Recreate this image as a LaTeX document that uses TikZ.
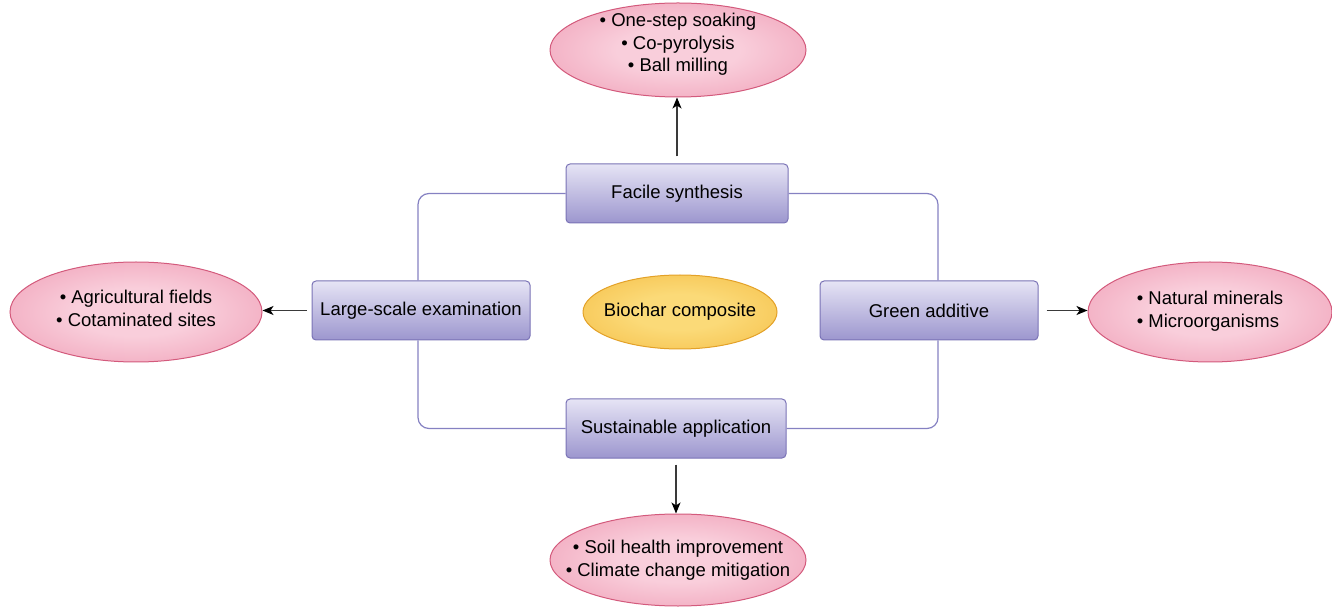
\documentclass[tikz,border=0pt]{standalone}
\usepackage{fontspec}
\setmainfont{Liberation Sans}
\usetikzlibrary{shapes.geometric,arrows.meta}
\definecolor{boxtop}{HTML}{E6E4F5}
\definecolor{boxbot}{HTML}{9C96CE}
\definecolor{boxline}{HTML}{7A73B6}
\definecolor{frameline}{HTML}{8581C2}
\definecolor{pinkin}{HTML}{F9CEDB}
\definecolor{pinkout}{HTML}{E9819F}
\definecolor{pinkline}{HTML}{D35A7C}
\definecolor{yelin}{HTML}{FBDA78}
\definecolor{yelout}{HTML}{F2B02E}
\definecolor{yelline}{HTML}{E3A128}
\definecolor{arrowc}{HTML}{3A3A3A}
\pgfdeclareradialshading{softpink}{\pgfpoint{0bp}{0bp}}{color(0bp)=(pinkin); color(12bp)=(pinkin); color(50bp)=(pinkout)}
\pgfdeclareradialshading{softyel}{\pgfpoint{0bp}{0bp}}{color(0bp)=(yelin); color(12bp)=(yelin); color(50bp)=(yelout)}
\tikzset{
  x=1pt, y=1pt,
  mainbox/.style={draw=boxline, line width=1pt, rounded corners=4pt,
    top color=boxtop, bottom color=boxbot, minimum height=59pt,
    inner sep=0pt, font=\fontsize{18.5}{22.5}\selectfont},
  pinkell/.style={ellipse, draw=pinkline, line width=1pt, shading=softpink,
    inner xsep=-60pt, inner ysep=-25pt, align=center, font=\fontsize{18.5}{23}\selectfont},
  yelell/.style={ellipse, draw=yelline, line width=1pt, shading=softyel,
    inner xsep=-30pt, inner ysep=-10pt, font=\fontsize{18.5}{22.5}\selectfont},
  frame/.style={draw=frameline, line width=1.2pt, rounded corners=11pt},
  arr/.style={draw=arrowc, line width=1.1pt, -{Stealth[length=11pt,width=9pt,inset=3pt,color=black]}}
}
\begin{document}
\begin{tikzpicture}
\useasboundingbox (0,0) rectangle (1332,608);
% main boxes
\node[mainbox, minimum width=222pt] (fac) at (677,414.5) {Facile synthesis};
\node[mainbox, minimum width=218pt] (lse) at (421,297.5) {Large-scale examination};
\node[mainbox, minimum width=218pt] (grn) at (929,297.5) {Green additive};
\node[mainbox, minimum width=220pt] (sus) at (676,179.5) {Sustainable application};
% frame connectors
\draw[frame] (fac.west) -| ([xshift=-3pt]lse.north);
\draw[frame] ([xshift=-3pt]lse.south) |- (sus.west);
\draw[frame] (fac.east) -| ([xshift=9pt]grn.north);
\draw[frame] ([xshift=9pt]grn.south) |- (sus.east);
% centre
\node[yelell, minimum width=194pt, minimum height=74pt] (bio) at (680,296) {Biochar composite};
% outer ellipses
\node[pinkell, minimum width=256pt, minimum height=94pt, text depth=15pt,
  font=\fontsize{18.5}{22.5}\selectfont] (top) at (678,558)
  {\textbullet\ One-step soaking\\ \textbullet\ Co-pyrolysis\\ \textbullet\ Ball milling};
\node[pinkell, minimum width=252pt, minimum height=100pt, text depth=6.5pt] (lft) at (136,296)
  {\textbullet\ Agricultural fields\\ \textbullet\ Cotaminated sites};
\node[pinkell, minimum width=244pt, minimum height=100pt, align=left, text depth=5.5pt] (rgt) at (1210,296)
  {\textbullet\ Natural minerals\\ \textbullet\ Microorganisms};
\node[pinkell, minimum width=256pt, minimum height=92pt] (bot) at (678,48)
  {\textbullet\ Soil health improvement\\ \textbullet\ Climate change mitigation};
% arrows
\draw[arr, shorten <=7pt] (fac.north) -- (fac.north |- top.south);
\draw[arr, shorten <=6pt] (sus.south) -- (sus.south |- bot.north);
\draw[arr, shorten <=5pt] (lse.west) -- (lse.west -| lft.east);
\draw[arr, shorten <=8pt] (grn.east) -- (grn.east -| rgt.west);
\end{tikzpicture}
\end{document}
